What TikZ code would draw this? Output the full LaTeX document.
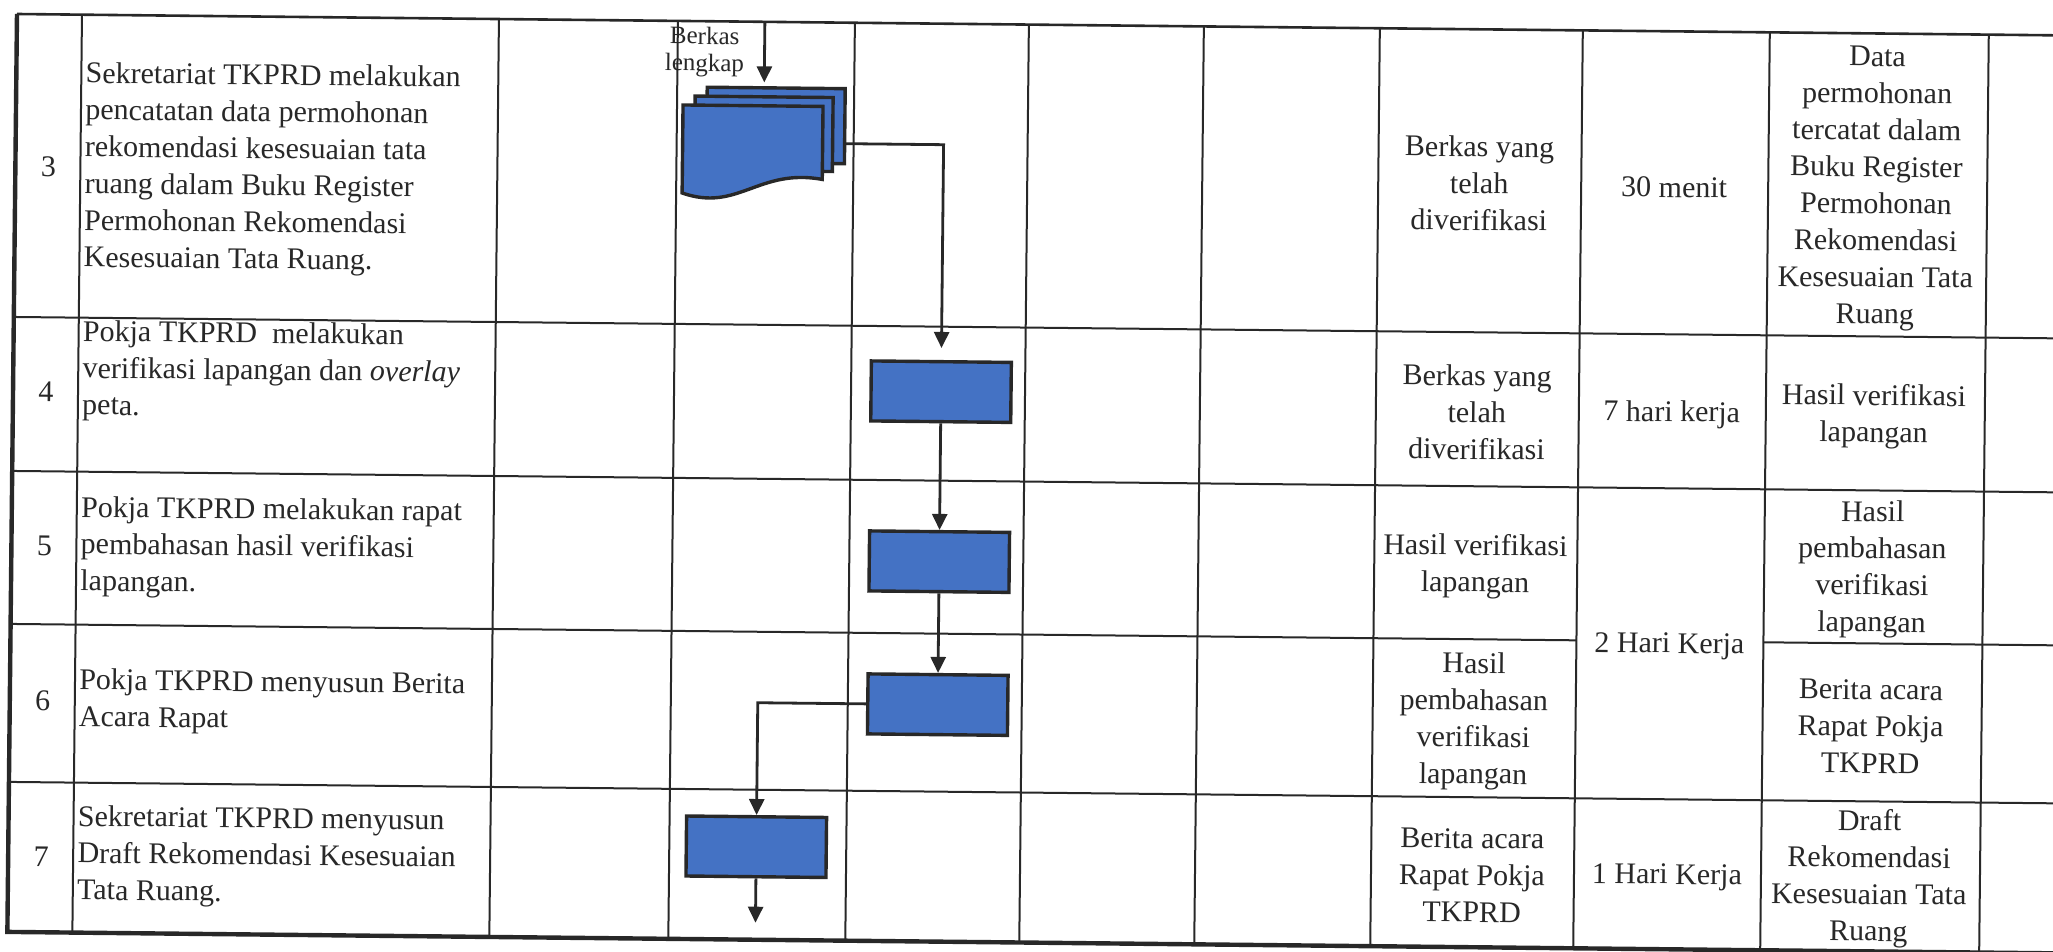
\documentclass[tikz,border=0pt]{standalone}
\usepackage{fontspec}
\setmainfont{Liberation Serif}
\usetikzlibrary{arrows.meta}
\definecolor{boxblue}{RGB}{68,114,196}
\definecolor{ink}{RGB}{40,40,40}

\begin{document}
\begin{tikzpicture}[x=0.5pt,y=-0.5pt,
  txt/.style={font=\fontsize{15}{18.4}\selectfont, text=ink, inner sep=0pt, align=center},
  desc/.style={txt, align=left, anchor=west},
  small/.style={font=\fontsize{12.5}{13.5}\selectfont, text=ink, inner sep=0pt, align=center},
  proc/.style={draw=ink, line width=1.7pt, fill=boxblue, minimum width=70pt, minimum height=30pt, inner sep=0pt},
  sheet/.style={draw=ink, line width=1.7pt, fill=boxblue},
  flow/.style={draw=ink, line width=1.4pt, -{Triangle[length=8pt,width=7.5pt]}},
  grid/.style={draw=ink, line width=1pt}]
\useasboundingbox (0,0) rectangle (2053,952);
\clip (0,0) rectangle (2053,952);
\begin{scope}[rotate around={-0.6:(17,13)}, transform shape]
% table rows and columns
\draw[grid, line width=1.3pt] (17,14) -- (2080,14);
\draw[grid] (17,317) -- (2080,317) (17,471) -- (2080,471)
  (17,624) -- (1583,624) (1770,624) -- (2080,624) (17,782) -- (2080,782);
\draw[grid] (82,14) -- (82,932) (499,14) -- (499,932) (678,14) -- (678,932)
  (855,14) -- (855,932) (1029,14) -- (1029,932) (1204,14) -- (1204,932)
  (1380,14) -- (1380,932) (1583,14) -- (1583,932) (1770,14) -- (1770,932)
  (1989,14) -- (1989,932);
\draw[ink, line width=2.2pt] (17,14) -- (17,932) -- (2080,932);

% stacked documents
\draw[sheet] (708,80) rectangle (846,155);
\draw[sheet] (696,89) rectangle (834,163);
\draw[sheet] (684,98) -- (824,98) -- (824,171) .. controls (760,160) and (740,205) .. (684,186) -- cycle;
\node[minimum width=81pt, minimum height=55pt, inner sep=0pt] (doc) at (765,135) {};
\node[small] (lbl) at (705,44.5) {Berkas\\lengkap};
\coordinate (in) at (765,14);

% process boxes
\node[proc] (b4) at (945,382) {};
\node[proc] (b5) at (945,552) {};
\node[proc] (b6) at (945,695) {};
\node[proc] (b7) at (765,839) {};
\coordinate (out) at (765,915);

\draw[flow, shorten >=2.5pt] (in) -- (doc.north);
\draw[flow, shorten >=6pt] (doc.east) -| (b4.north);
\draw[flow] (b4) -- (b5);
\draw[flow] (b5) -- (b6);
\draw[flow] (b6.west) -| (b7.north);
\draw[flow] (b7) -- (out);

% numbers and activities
\node[txt] (n3) at (50,166) {3};
\node[txt] (n4) at (50,391) {4};
\node[txt] (n5) at (50,546) {5};
\node[txt] (n6) at (50,701) {6};
\node[txt] (n7) at (50,857) {7};
\node[desc] (d3) at (86,167) {Sekretariat TKPRD melakukan\\pencatatan data permohonan\\rekomendasi kesesuaian tata\\ruang dalam Buku Register\\Permohonan Rekomendasi\\Kesesuaian Tata Ruang.};
\node[desc] (d4) at (86,370) {Pokja TKPRD\ \ melakukan\\verifikasi lapangan dan \textit{overlay}\\peta.};
\node[desc] (d5) at (86,546) {Pokja TKPRD melakukan rapat\\pembahasan hasil verifikasi\\lapangan.};
\node[desc] (d6) at (86,700) {Pokja TKPRD menyusun Berita\\Acara Rapat};
\node[desc] (d7) at (86,855) {Sekretariat TKPRD menyusun\\Draft Rekomendasi Kesesuaian\\Tata Ruang.};

% input, time, output
\node[txt] (i3) at (1481,168) {Berkas yang\\telah\\diverifikasi};
\node[txt] (i4) at (1481,397) {Berkas yang\\telah\\diverifikasi};
\node[txt] (i5) at (1481,551) {Hasil verifikasi\\lapangan};
\node[txt] (i6) at (1481,706) {Hasil\\pembahasan\\verifikasi\\lapangan};
\node[txt] (i7) at (1481,860) {Berita acara\\Rapat Pokja\\TKPRD};
\node[txt] (t3) at (1676,170) {30 menit};
\node[txt] (t4) at (1676,397) {7 hari kerja};
\node[txt] (t56) at (1676,629) {2 Hari Kerja};
\node[txt] (t7) at (1676,860) {1 Hari Kerja};
\node[txt] (o3) at (1878,169) {Data\\permohonan\\tercatat dalam\\Buku Register\\Permohonan\\Rekomendasi\\Kesesuaian Tata\\Ruang};
\node[txt] (o4) at (1878,397) {Hasil verifikasi\\lapangan};
\node[txt] (o5) at (1878,550) {Hasil\\pembahasan\\verifikasi\\lapangan};
\node[txt] (o6) at (1878,707) {Berita acara\\Rapat Pokja\\TKPRD};
\node[txt] (o7) at (1878,859) {Draft\\Rekomendasi\\Kesesuaian Tata\\Ruang};
\end{scope}
\end{tikzpicture}
\end{document}
